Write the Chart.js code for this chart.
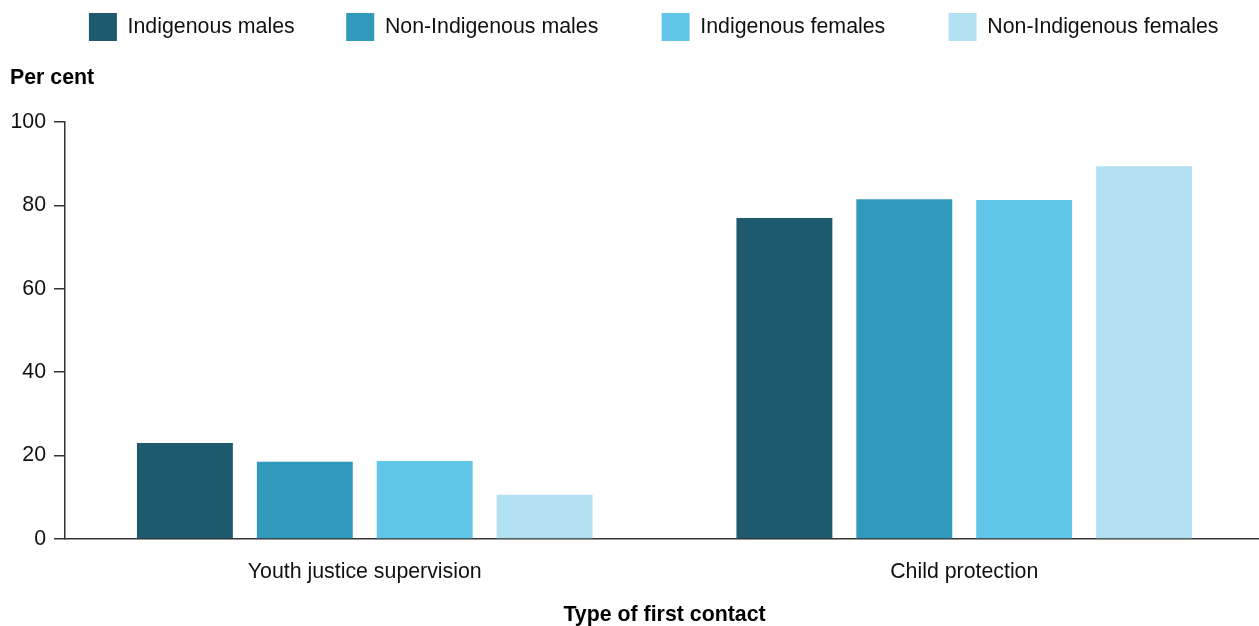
<!DOCTYPE html>
<html>
<head>
<meta charset="utf-8">
<script src="https://cdn.jsdelivr.net/npm/chart.js@4.4.1/dist/chart.umd.min.js"></script>
<style>
  html, body { margin: 0; padding: 0; background: #fff; overflow: hidden; width: 1259px; height: 626px; }
  #wrap { width: 1264px; height: 626px; }
</style>
</head>
<body>
<div id="wrap"><canvas id="c" width="1264" height="626"></canvas></div>
<script>
const categories = ['Youth justice supervision', 'Child protection'];
const seriesNames = ['Indigenous males', 'Non-Indigenous males', 'Indigenous females', 'Non-Indigenous females'];
const indigenousMales = [23.0, 77.0];
const nonIndigenousMales = [18.5, 81.5];
const indigenousFemales = [18.7, 81.3];
const nonIndigenousFemales = [10.6, 89.4];
const yTicks = [0, 20, 40, 60, 80, 100];
const colors = ['#1d5a6e', '#3199bb', '#60c5e7', '#b2e1f3'];

const FONT = '"Liberation Sans", Arial, Helvetica, sans-serif';
const FS = 21.33;
const legendGaps = [7, 9, 9, 6];

const seriesValues = [indigenousMales, nonIndigenousMales, indigenousFemales, nonIndigenousFemales];

new Chart(document.getElementById('c'), {
  type: 'bar',
  data: {
    labels: categories,
    datasets: seriesNames.map((name, i) => ({
      label: name,
      data: seriesValues[i],
      backgroundColor: colors[i],
      borderWidth: 0,
      categoryPercentage: 0.8,
      barPercentage: 0.8
    }))
  },
  options: {
    responsive: false,
    devicePixelRatio: 1,
    animation: false,
    events: [],
    layout: { padding: { top: 3, left: 10, right: 0, bottom: 0 } },
    plugins: {
      tooltip: { enabled: false },
      legend: {
        position: 'top',
        align: 'end',
        weight: 1000,
        labels: {
          boxWidth: 28,
          boxHeight: 28,
          padding: 10,
          color: '#111',
          font: { family: FONT, size: FS },
          generateLabels: (chart) => {
            const items = Chart.defaults.plugins.legend.labels.generateLabels(chart);
            items.forEach((it, i) => { it.text = it.text + ' '.repeat(legendGaps[i]); it.lineWidth = 0; });
            return items;
          }
        }
      },
      title: {
        display: true,
        text: 'Per cent',
        align: 'start',
        position: 'top',
        weight: 500,
        color: '#000',
        font: { family: FONT, size: FS, weight: 'bold' },
        padding: { top: 14.7, bottom: 30.7 }
      }
    },
    scales: {
      x: {
        grid: { display: false, drawTicks: false },
        border: { display: true, color: '#333', width: 1.5 },
        ticks: { color: '#111', font: { family: FONT, size: FS }, padding: 20, autoSkip: false, maxRotation: 0 },
        title: {
          display: true,
          text: 'Type of first contact',
          color: '#000',
          font: { family: FONT, size: FS, weight: 'bold' },
          padding: { top: 15.8, bottom: -2 }
        },
        afterFit: (s) => { s.height = 87; }
      },
      y: {
        min: 0,
        max: 100,
        afterBuildTicks: (s) => { s.ticks = yTicks.map(v => ({ value: v })); },
        grid: { display: true, drawOnChartArea: false, drawTicks: true, tickLength: 11, color: '#333', lineWidth: 1.5 },
        border: { display: true, color: '#333', width: 1.5 },
        ticks: { color: '#111', font: { family: FONT, size: FS }, padding: 8 },
        afterFit: (s) => { s.width = 55; }
      }
    }
  }
});
</script>
</body>
</html>
